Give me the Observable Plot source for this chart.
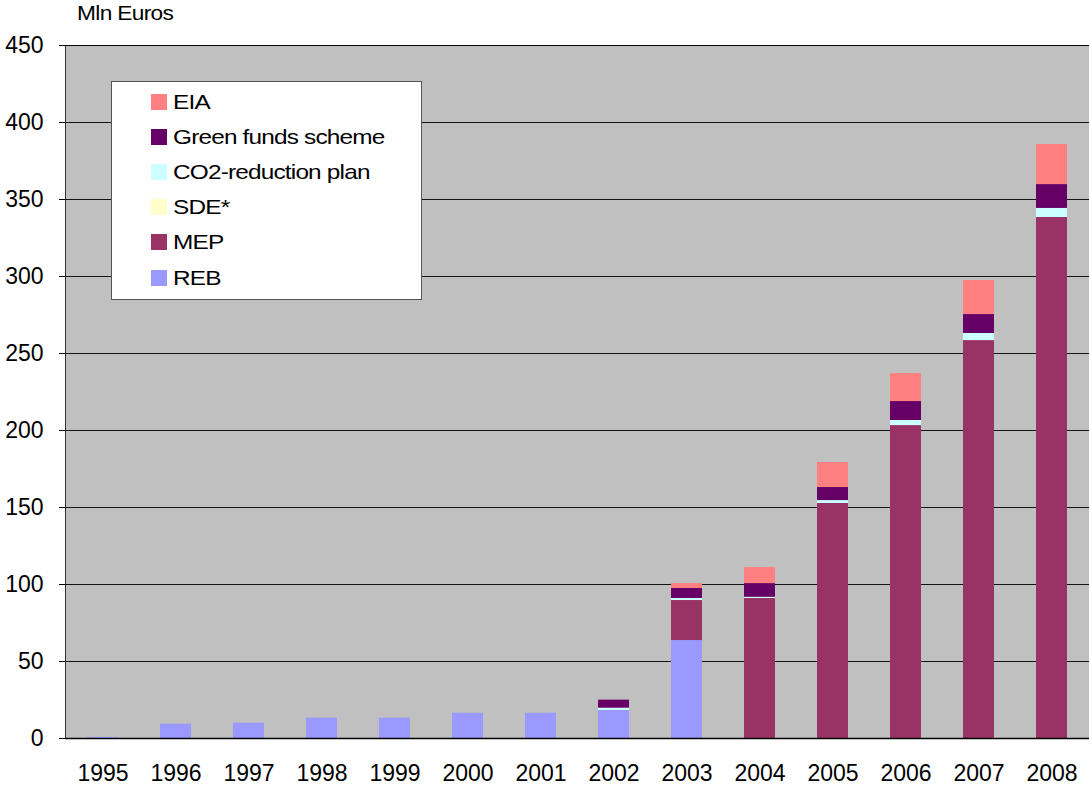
<!DOCTYPE html>
<html>
<head>
<meta charset="utf-8">
<script src="https://cdn.jsdelivr.net/npm/d3@7"></script>
<script src="https://cdn.jsdelivr.net/npm/@observablehq/plot@0.6"></script>
<style>
  body { margin: 0; background: #fff; }
  #wrap { position: relative; width: 1089px; height: 787px; font-family: "Liberation Sans", Arial, sans-serif; }
  #unit { position: absolute; left: 77px; top: 2px; font-size: 21px; line-height: 21px; color: #000; letter-spacing: -0.6px; transform: scaleX(1.08); transform-origin: left; }
  #legend { position: absolute; left: 111px; top: 81px; width: 309px; height: 215px; background: #fff; border: 1px solid #555; box-sizing: content-box; padding-top: 2px; }
  .row { height: 35.2px; display: flex; align-items: center; }
  .sw { width: 16px; height: 16px; margin-left: 39px; margin-right: 6px; flex: none; }
  .lab { font-size: 21px; color: #000; transform: scaleX(1.16); transform-origin: left; white-space: nowrap; letter-spacing: -0.7px; }
</style>
</head>
<body>
<div id="wrap"><div id="unit">Mln Euros</div></div>
<script>
const years = ["1995","1996","1997","1998","1999","2000","2001","2002","2003","2004","2005","2006","2007","2008"];
const reb   = [0.6, 9.3, 9.9, 13.2, 13.2, 16.4, 16.4, 18.2, 63.6, 0, 0, 0, 0, 0];
const mep   = [0, 0, 0, 0, 0, 0, 0, 0, 26.0, 90.9, 152.6, 203.2, 258.4, 338.3];
const sde   = [0, 0, 0, 0, 0, 0, 0, 0, 0, 0, 0, 0, 0, 0];
const co2   = [0, 0, 0, 0, 0, 0, 0, 1.5, 1.3, 0.8, 1.9, 3.3, 4.6, 5.9];
const green = [0, 0, 0, 0, 0, 0, 0, 5.2, 6.5, 8.9, 8.5, 12.3, 12.3, 15.5];
const eia   = [0, 0, 0, 0, 0, 0, 0, 0, 3.2, 10.4, 16.2, 18.2, 22.1, 26.0];
const seriesNames = ["REB", "MEP", "SDE*", "CO2-reduction plan", "Green funds scheme", "EIA"];
const seriesColors = ["#9999FF", "#993366", "#FFFFCC", "#CCFFFF", "#660066", "#FF8080"];
const yTicks = [0, 50, 100, 150, 200, 250, 300, 350, 400, 450];

const seriesValues = [reb, mep, sde, co2, green, eia];
const data = [];
seriesNames.forEach((s, i) => years.forEach((y, j) => data.push({year: y, series: s, value: seriesValues[i][j]})));

const chart = Plot.plot({
  width: 1089, height: 787,
  marginTop: 45, marginBottom: 49, marginLeft: 65, marginRight: 0,
  style: {fontFamily: "'Liberation Sans', Arial, sans-serif", fontSize: "23px", background: "transparent", color: "#000"},
  x: {domain: years, paddingInner: 0.58, paddingOuter: 0.29, label: null, tickSize: 0, tickPadding: 26},
  y: {domain: [0, 450], ticks: yTicks, label: null, tickSize: 6, tickPadding: 16},
  color: {domain: seriesNames, range: seriesColors},
  marks: [
    Plot.frame({fill: "#C0C0C0", stroke: "#333"}),
    Plot.gridY(yTicks, {stroke: "#000", strokeOpacity: 0.9}),
    Plot.barY(data, {x: "year", y: "value", fill: "series", order: seriesNames}),
    Plot.ruleY([0], {stroke: "#000", strokeWidth: 1.5})
  ]
});
const wrap = document.getElementById("wrap");
wrap.insertBefore(chart, wrap.firstChild);

const legend = document.createElement("div");
legend.id = "legend";
[...seriesNames].reverse().forEach(s => {
  const row = document.createElement("div");
  row.className = "row";
  const sw = document.createElement("div");
  sw.className = "sw";
  sw.style.background = seriesColors[seriesNames.indexOf(s)];
  const lab = document.createElement("span");
  lab.className = "lab";
  lab.textContent = s;
  row.appendChild(sw); row.appendChild(lab);
  legend.appendChild(row);
});
wrap.appendChild(legend);
</script>
</body>
</html>
